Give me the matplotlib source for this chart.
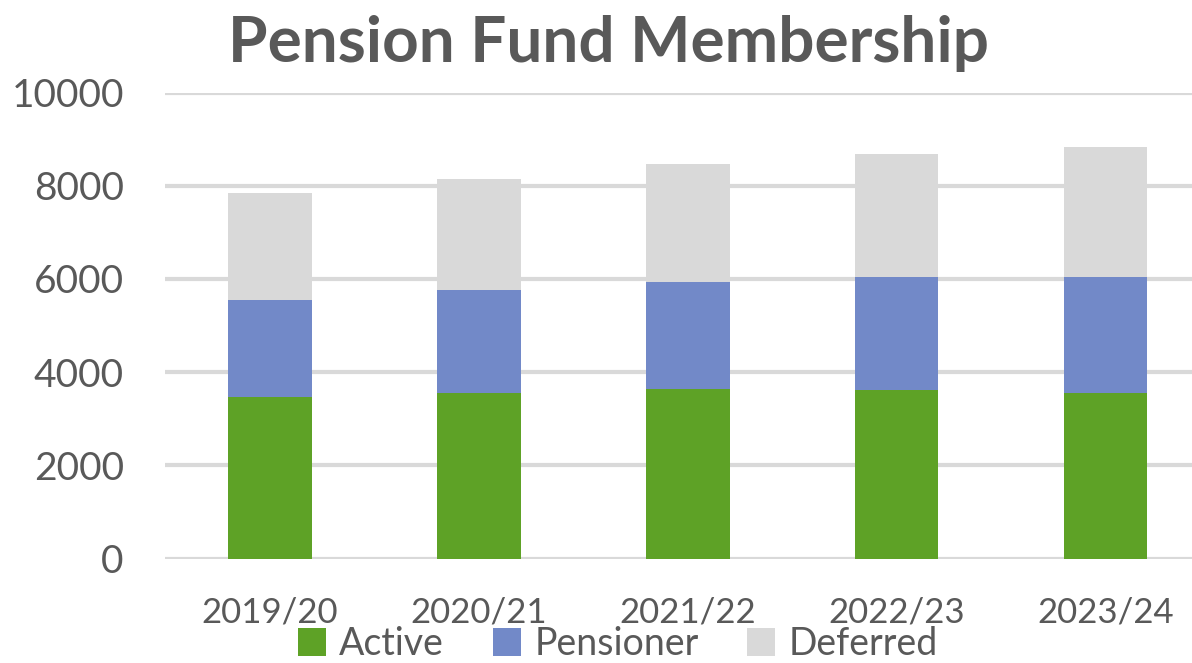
import numpy as np
import matplotlib.pyplot as plt

years = ['2019/20', '2020/21', '2021/22', '2022/23', '2023/24']
active = [3470, 3550, 3630, 3620, 3545]
pensioner = [2080, 2210, 2310, 2430, 2500]
deferred = [2290, 2385, 2525, 2625, 2785]

series_names = ['Active', 'Pensioner', 'Deferred']
colors = ['#5ea226', '#7289c8', '#d9d9d9']
text_col = '#595959'

plt.rcParams['font.family'] = ['Lato', 'DejaVu Sans']

fig = plt.figure(figsize=(11.92, 6.63), dpi=100)
ax = fig.add_axes([165.5 / 1192, 1 - 558.5 / 663, (1210 - 165.5) / 1192, (558.5 - 92.5) / 663])

x = np.arange(len(years))
bottom = np.zeros(len(years))
for name, vals, c in zip(series_names, [active, pensioner, deferred], colors):
    ax.bar(x, vals, width=0.4, bottom=bottom, color=c, label=name, zorder=3)
    bottom += np.array(vals)

ax.set_ylim(0, 10000)
ax.set_xlim(-0.5, 4.5)
ax.set_yticks(range(0, 10001, 2000))
ax.set_xticks(x)
ax.set_xticklabels(years)
ax.yaxis.grid(True, color='#d9d9d9', linewidth=3, zorder=0)
ax.tick_params(axis='y', length=0, labelsize=28, colors=text_col, pad=30)
ax.tick_params(axis='x', length=0, labelsize=25, colors=text_col, pad=27)
for s in ax.spines.values():
    s.set_visible(False)

fig.text(608 / 1192, 1 - 44 / 663, 'Pension Fund Membership', ha='center', va='center',
         fontsize=46, fontweight='bold', color=text_col)

leg = fig.legend(loc='center', bbox_to_anchor=(618 / 1192, 1 - 644 / 663), ncol=3, frameon=False,
                 fontsize=27, handlelength=0.75, handleheight=0.75, handletextpad=0.35,
                 columnspacing=1.3, labelcolor=text_col, borderpad=0.1)

fig.savefig('out.png', dpi=100)
